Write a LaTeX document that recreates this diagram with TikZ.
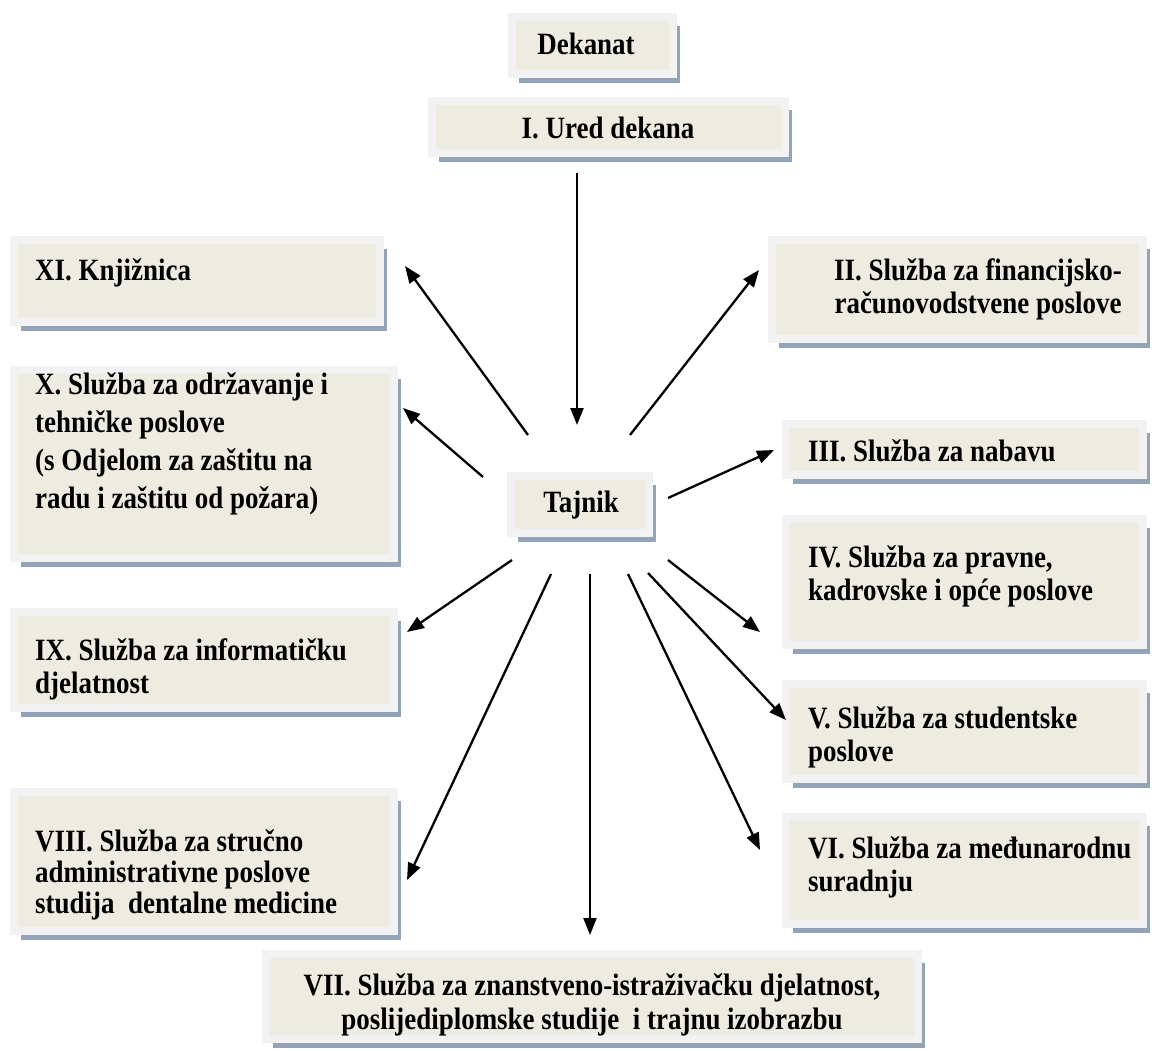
\documentclass[tikz,border=0pt]{standalone}
\usepackage{fontspec}
\setmainfont{Liberation Serif}
\newfontfamily\boxfont[FakeStretch=0.87]{Liberation Serif}
\usetikzlibrary{arrows.meta,shadows}
\definecolor{boxfill}{HTML}{EEECE1}
\definecolor{framecol}{HTML}{F2F2F2}
\definecolor{shadowcol}{HTML}{95A3B8}
\newcommand{\fl}{\rule{0pt}{25pt}}
\begin{document}
\begin{tikzpicture}[x=1pt,y=-1pt,
  wbox/.style={draw=framecol, line width=8pt, fill=boxfill, inner sep=0pt,
    drop shadow={shadow xshift=7pt, shadow yshift=-9pt, fill=shadowcol, opacity=1}},
  lbl/.style={inner sep=0pt, font=\boxfont\fontsize{31}{33}\selectfont\bfseries, align=left, anchor=north west},
  lblc/.style={lbl, align=center, anchor=north},
  conn/.style={line width=2.3pt, -{Triangle[length=17pt,width=13pt]}}]
\useasboundingbox[fill=white] (0,0) rectangle (1158,1051);
% boxes
\node[wbox, minimum width=161pt, minimum height=57pt] (dek) at (592.5,45.5) {};
\node[wbox, minimum width=353pt, minimum height=52pt] (ured) at (608.5,127) {};
\node[wbox, minimum width=366pt, minimum height=82pt] (xi) at (197,281) {};
\node[wbox, minimum width=371pt, minimum height=99pt] (ii) at (957.5,289.5) {};
\node[wbox, minimum width=380pt, minimum height=188pt] (x) at (204,464) {};
\node[wbox, minimum width=357pt, minimum height=51pt] (iii) at (964.5,449.5) {};
\node[wbox, minimum width=138pt, minimum height=57pt] (taj) at (580,504.5) {};
\node[wbox, minimum width=357pt, minimum height=126pt] (iv) at (964.5,582) {};
\node[wbox, minimum width=380pt, minimum height=96pt] (ix) at (204,660) {};
\node[wbox, minimum width=357pt, minimum height=95pt] (v) at (964.5,731.5) {};
\node[wbox, minimum width=380pt, minimum height=139pt] (viii) at (204,861.5) {};
\node[wbox, minimum width=357pt, minimum height=107pt] (vi) at (964.5,870.5) {};
\node[wbox, minimum width=652pt, minimum height=85pt] (vii) at (592,996.5) {};
% texts
\node[lblc] (dekT) at (586,29) {\fl Dekanat};
\node[lblc] (uredT) at (608,113) {\fl I. Ured dekana};
\node[lblc] (tajT) at (581,487) {\fl Tajnik};
\node[lbl] (xiT) at (35,255) {\fl XI. Knjižnica};
\node[lblc] (iiT) at (978,255) {\fl II. Služba za financijsko-\\računovodstvene poslove};
\node[lbl, font=\boxfont\fontsize{31}{38}\selectfont\bfseries] (xT) at (35,369) {\fl X. Služba za održavanje i\\tehničke poslove\\(s Odjelom za zaštitu na\\radu i zaštitu od požara)};
\node[lbl] (iiiT) at (808,436) {\fl III. Služba za nabavu};
\node[lbl] (ivT) at (808,542) {\fl IV. Služba za pravne,\\kadrovske i opće poslove};
\node[lbl] (ixT) at (35,635) {\fl IX. Služba za informatičku\\djelatnost};
\node[lbl] (vT) at (808,703) {\fl V. Služba za studentske\\poslove};
\node[lbl, font=\boxfont\fontsize{31}{31}\selectfont\bfseries] (viiiT) at (35,826) {\fl VIII. Služba za stručno\\administrativne poslove\\studija\ \ dentalne medicine};
\node[lbl] (viT) at (808,833) {\fl VI. Služba za međunarodnu\\suradnju};
\node[lblc, font=\boxfont\fontsize{31}{34}\selectfont\bfseries] (viiT) at (592,970) {\fl VII. Služba za znanstveno-istraživačku djelatnost,\\poslijediplomske studije\ \ i trajnu izobrazbu};
% connector ends
\coordinate (s1) at (577,173);  \coordinate (e1) at (577,425);
\coordinate (s2) at (528,435);  \coordinate (e2) at (405,266);
\coordinate (s3) at (630,435);  \coordinate (e3) at (759,270);
\coordinate (s4) at (483,477);  \coordinate (e4) at (403,408);
\coordinate (s5) at (668,498);  \coordinate (e5) at (774,450);
\coordinate (s6) at (668,560);  \coordinate (e6) at (760,632);
\coordinate (s7) at (512,560);  \coordinate (e7) at (407,632);
\coordinate (s8) at (648,573);  \coordinate (e8) at (786,720);
\coordinate (s9) at (551,574);  \coordinate (e9) at (407,880);
\coordinate (s10) at (628,574); \coordinate (e10) at (760,850);
\coordinate (s11) at (590,574); \coordinate (e11) at (590,935);
\draw[conn] (s1) -- (e1);
\draw[conn] (s2) -- (e2);
\draw[conn] (s3) -- (e3);
\draw[conn] (s4) -- (e4);
\draw[conn] (s5) -- (e5);
\draw[conn] (s6) -- (e6);
\draw[conn] (s7) -- (e7);
\draw[conn] (s8) -- (e8);
\draw[conn] (s9) -- (e9);
\draw[conn] (s10) -- (e10);
\draw[conn] (s11) -- (e11);
\end{tikzpicture}
\end{document}
